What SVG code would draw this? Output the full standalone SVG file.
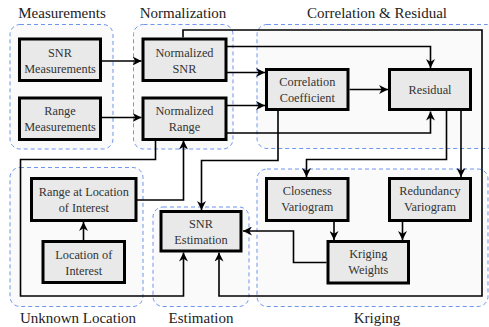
<svg xmlns="http://www.w3.org/2000/svg" width="489" height="327" viewBox="0 0 489 327">
<defs>
<marker id="ah" viewBox="0 0 10 10" refX="10" refY="5" markerWidth="9" markerHeight="9" markerUnits="userSpaceOnUse" orient="auto">
<path d="M0,0 L10,5 L0,10 L3,5 Z" fill="#000"/>
</marker>
</defs>
<style>
.grp{fill:#fafafa;stroke:#6f95ec;stroke-width:1;stroke-dasharray:4,3}
.gl{font-family:'Liberation Serif',serif;font-size:15px;fill:#222;text-anchor:middle}
.nd{fill:#e9e9e9;stroke:#000;stroke-width:3}
.nt{font-family:'Liberation Serif',serif;font-size:12.3px;fill:#333;text-anchor:middle}
.cn{fill:none;stroke:#000;stroke-width:1.6}
</style>
<rect width="489" height="327" fill="#fff"/>
<g id="groups">
<rect class="grp" x="10" y="24.5" width="103" height="124.5" rx="10"/>
<rect class="grp" x="133.5" y="24.5" width="99.5" height="124.5" rx="10"/>
<rect class="grp" x="257" y="24.5" width="240" height="124" rx="10"/>
<rect class="grp" x="10" y="167.5" width="133" height="139" rx="10"/>
<rect class="grp" x="153" y="207" width="96" height="99.5" rx="10"/>
<rect class="grp" x="257" y="169" width="231" height="137.5" rx="10"/>
<text class="gl" x="62" y="18">Measurements</text>
<text class="gl" x="183" y="18">Normalization</text>
<text class="gl" x="377" y="18">Correlation &amp; Residual</text>
<text class="gl" x="78" y="323">Unknown Location</text>
<text class="gl" x="201" y="323">Estimation</text>
<text class="gl" x="377" y="323">Kriging</text>
</g>
<g id="connectors">
<path class="cn" d="M101.5,61 H141.5" marker-end="url(#ah)"/>
<path class="cn" d="M101.5,117.5 H141.5" marker-end="url(#ah)"/>
<path class="cn" d="M226.5,46.5 H430.5 V68" marker-end="url(#ah)"/>
<path class="cn" d="M226.5,72.5 H265" marker-end="url(#ah)"/>
<path class="cn" d="M226.5,105.5 H265" marker-end="url(#ah)"/>
<path class="cn" d="M226.5,133 H430.5 V111.5" marker-end="url(#ah)"/>
<path class="cn" d="M349.5,89.5 H388" marker-end="url(#ah)"/>
<path class="cn" d="M183,37.5 V30 H482 V296 H219 V252.5" marker-end="url(#ah)"/>
<path class="cn" d="M155.5,140.5 V159.5 H20.5 V296 H183.5 V252.5" marker-end="url(#ah)"/>
<path class="cn" d="M137,200 H183.5 V140.5" marker-end="url(#ah)"/>
<path class="cn" d="M278,111 V160.5 H201.5 V210" marker-end="url(#ah)"/>
<path class="cn" d="M446.5,111 V159.5 H306.5 V177" marker-end="url(#ah)"/>
<path class="cn" d="M461,111 V177" marker-end="url(#ah)"/>
<path class="cn" d="M334,221.5 V240" marker-end="url(#ah)"/>
<path class="cn" d="M402.5,221.5 V240" marker-end="url(#ah)"/>
<path class="cn" d="M326.5,262.5 H293.5 V231 H243" marker-end="url(#ah)"/>
<path class="cn" d="M83.5,240 V222" marker-end="url(#ah)"/>
</g>
<g id="snr-measurements">
<rect class="nd" x="19.5" y="39" width="81" height="41.5"/>
<text class="nt" x="60" y="57">SNR</text>
<text class="nt" x="60" y="73">Measurements</text>
</g>
<g id="range-measurements">
<rect class="nd" x="19.5" y="98" width="81" height="41.5"/>
<text class="nt" x="60" y="115">Range</text>
<text class="nt" x="60" y="131">Measurements</text>
</g>
<g id="normalized-snr">
<rect class="nd" x="143" y="39" width="83" height="41.5"/>
<text class="nt" x="184.5" y="57">Normalized</text>
<text class="nt" x="184.5" y="73">SNR</text>
</g>
<g id="normalized-range">
<rect class="nd" x="143" y="98" width="83" height="41.5"/>
<text class="nt" x="184.5" y="115">Normalized</text>
<text class="nt" x="184.5" y="131">Range</text>
</g>
<g id="correlation-coefficient">
<rect class="nd" x="266.5" y="69.5" width="81.5" height="40"/>
<text class="nt" x="307.3" y="86">Correlation</text>
<text class="nt" x="307.3" y="102">Coefficient</text>
</g>
<g id="residual">
<rect class="nd" x="389.5" y="69.5" width="81" height="40"/>
<text class="nt" x="430" y="94">Residual</text>
</g>
<g id="range-at-location">
<rect class="nd" x="31.5" y="178.5" width="104.5" height="42"/>
<text class="nt" x="83.8" y="196">Range at Location</text>
<text class="nt" x="83.8" y="212">of Interest</text>
</g>
<g id="location-of-interest">
<rect class="nd" x="43" y="241.5" width="81.5" height="41"/>
<text class="nt" x="83.8" y="259">Location of</text>
<text class="nt" x="83.8" y="275">Interest</text>
</g>
<g id="snr-estimation">
<rect class="nd" x="161" y="211.5" width="80" height="39.5"/>
<text class="nt" x="201" y="228">SNR</text>
<text class="nt" x="201" y="244">Estimation</text>
</g>
<g id="closeness-variogram">
<rect class="nd" x="266.5" y="178.5" width="81.5" height="42"/>
<text class="nt" x="307.3" y="195">Closeness</text>
<text class="nt" x="307.3" y="211">Variogram</text>
</g>
<g id="redundancy-variogram">
<rect class="nd" x="389.5" y="178.5" width="81" height="42"/>
<text class="nt" x="430" y="195">Redundancy</text>
<text class="nt" x="430" y="211">Variogram</text>
</g>
<g id="kriging-weights">
<rect class="nd" x="328" y="241.5" width="80.5" height="41.5"/>
<text class="nt" x="368.3" y="258">Kriging</text>
<text class="nt" x="368.3" y="274">Weights</text>
</g>
</svg>
